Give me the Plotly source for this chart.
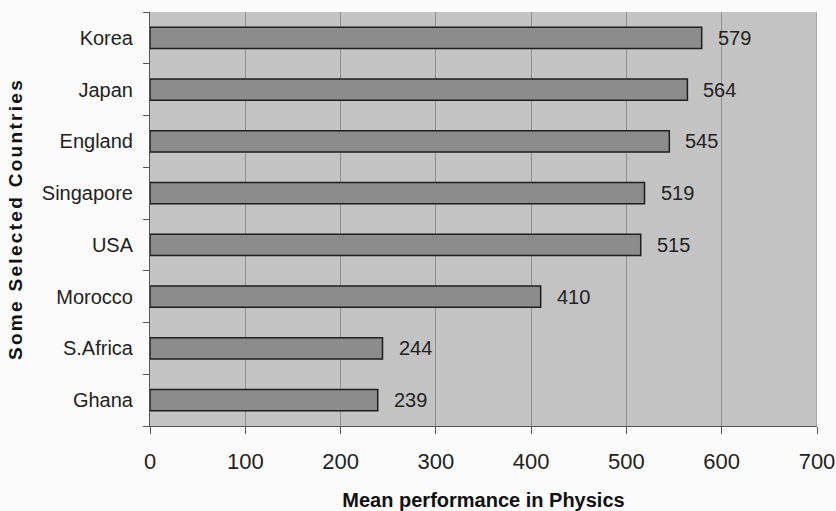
import plotly.graph_objects as go

countries = ["Korea", "Japan", "England", "Singapore", "USA", "Morocco", "S.Africa", "Ghana"]
scores = [579, 564, 545, 519, 515, 410, 244, 239]
x_ticks = [0, 100, 200, 300, 400, 500, 600, 700]

FONT = "Liberation Sans, Arial, sans-serif"

fig = go.Figure()
fig.add_trace(go.Bar(
    y=countries,
    x=scores,
    orientation="h",
    width=0.41,
    marker=dict(color="#8c8c8c", line=dict(color="#1e1e1e", width=1.5)),
    hoverinfo="x+y",
))

for c, v in zip(countries, scores):
    fig.add_annotation(x=v, y=c, text=str(v), showarrow=False,
                       xanchor="left", xshift=14,
                       font=dict(family=FONT, size=20, color="#222"))

fig.update_layout(
    width=836, height=511,
    margin=dict(l=150, r=19, t=12, b=85),
    paper_bgcolor="#fbfbfb",
    plot_bgcolor="#c3c3c3",
    showlegend=False,
    font=dict(family=FONT, color="#222"),
)
fig.update_xaxes(
    range=[0, 700], tickvals=x_ticks, ticktext=[str(t) for t in x_ticks],
    showgrid=True, gridcolor="#8f8f8f", gridwidth=1,
    showline=True, linecolor="#555", linewidth=1, mirror=False,
    ticks="outside", ticklen=7, tickcolor="#555",
    ticklabelstandoff=9,
    tickfont=dict(size=22, color="#222"),
    zeroline=False, automargin=False,
    title=dict(text="<b>Mean performance in Physics</b>",
               font=dict(size=20, color="#111"), standoff=20),
)
fig.update_yaxes(
    categoryorder="array", categoryarray=countries[::-1],
    showline=True, linecolor="#555", linewidth=1,
    ticks="outside", ticklen=6, tickcolor="#555", tickson="boundaries",
    ticklabelstandoff=12,
    tickfont=dict(size=20, color="#222"),
    showgrid=False, automargin=False,
    title=dict(text='<b><span style="letter-spacing:2.3px">Some Selected Countries</span></b>',
               font=dict(size=19, color="#111"), standoff=14),
)

# faint frame on the right edge of the plotting area
fig.add_shape(type="line", xref="x", yref="paper", x0=700, x1=700, y0=0, y1=1,
              line=dict(color="#8a8a8a", width=1))

fig.write_html("out.html")
